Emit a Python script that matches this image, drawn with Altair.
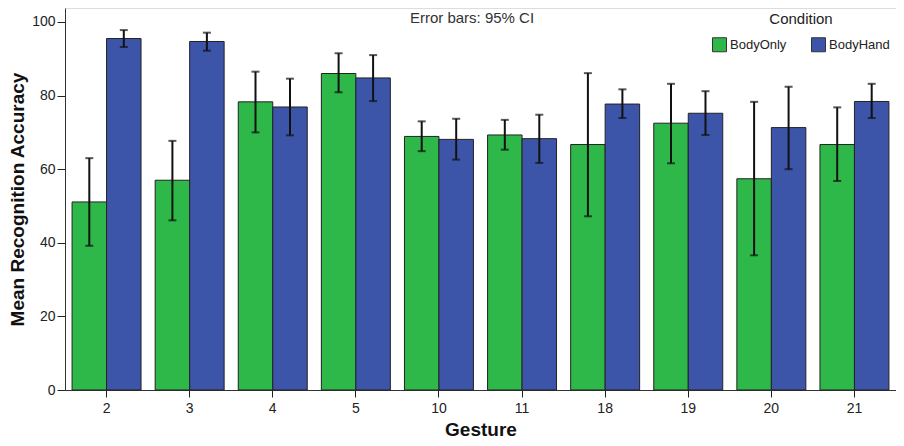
import altair as alt
import pandas as pd

gestures = ["2", "3", "4", "5", "10", "11", "18", "19", "20", "21"]
conditions = ["BodyOnly", "BodyHand"]
body_only_mean = [51.1, 57.0, 78.3, 86.0, 68.9, 69.3, 66.7, 72.5, 57.4, 66.7]
body_only_lo = [39.2, 46.1, 70.0, 80.9, 64.9, 65.3, 47.2, 61.6, 36.6, 56.8]
body_only_hi = [63.0, 67.7, 86.5, 91.5, 73.0, 73.4, 86.1, 83.2, 78.3, 76.8]
body_hand_mean = [95.5, 94.7, 76.9, 84.8, 68.1, 68.3, 77.7, 75.2, 71.3, 78.4]
body_hand_lo = [93.2, 92.2, 69.2, 78.5, 62.6, 61.7, 73.9, 69.3, 60.0, 73.9]
body_hand_hi = [97.8, 97.1, 84.6, 91.0, 73.7, 74.8, 81.7, 81.2, 82.4, 83.2]

rows = []
for i, g in enumerate(gestures):
    rows.append(dict(Gesture=g, Condition="BodyOnly", mean=body_only_mean[i],
                     lo=body_only_lo[i], hi=body_only_hi[i]))
    rows.append(dict(Gesture=g, Condition="BodyHand", mean=body_hand_mean[i],
                     lo=body_hand_lo[i], hi=body_hand_hi[i]))
df = pd.DataFrame(rows)

FONT = "Liberation Sans"
colors = ["#2fb84a", "#3d55a8"]

x = alt.X("Gesture:N", sort=gestures,
          scale=alt.Scale(paddingInner=0.17, paddingOuter=0.085),
          axis=alt.Axis(title="Gesture", labelAngle=0, tickSize=7, labelPadding=4,
                        labelFontSize=14, labelColor="#222", titleFontSize=19,
                        titleFontWeight="bold", titleColor="#111", titlePadding=5,
                        domainColor="#333", tickColor="#222", labelFont=FONT, titleFont=FONT))
xoff = alt.XOffset("Condition:N", sort=conditions)
yscale = alt.Scale(domain=[0, 103.8], nice=False)

base = alt.Chart(df)

bars = base.mark_bar(stroke="#222", strokeWidth=1).encode(
    x=x,
    xOffset=xoff,
    y=alt.Y("mean:Q", scale=yscale,
            axis=alt.Axis(title="Mean Recognition Accuracy", values=[0, 20, 40, 60, 80, 100],
                          grid=False, tickSize=8, labelPadding=2, labelFontSize=14,
                          labelColor="#222", titleFontSize=19, titleFontWeight="bold",
                          titleColor="#111", titlePadding=4, domainColor="#333",
                          tickColor="#222", labelFont=FONT, titleFont=FONT)),
    color=alt.Color("Condition:N", sort=conditions,
                    scale=alt.Scale(domain=conditions, range=colors),
                    legend=alt.Legend(title="Condition", orient="none", legendX=647, legendY=4,
                                      direction="horizontal", titleAnchor="middle",
                                      titleFontSize=15, titleFontWeight="normal",
                                      titleColor="#222", labelFontSize=13, labelColor="#222",
                                      symbolType="square", symbolSize=196,
                                      symbolStrokeColor="#333", symbolStrokeWidth=1,
                                      columnPadding=22, labelOffset=3, titlePadding=10,
                                      labelFont=FONT, titleFont=FONT)),
)

rules = base.mark_rule(color="#111", strokeWidth=2).encode(
    x=x, xOffset=xoff, y="lo:Q", y2="hi:Q")
caps_lo = base.mark_tick(color="#111", thickness=2, size=8, orient="horizontal").encode(
    x=x, xOffset=xoff, y="lo:Q")
caps_hi = base.mark_tick(color="#111", thickness=2, size=8, orient="horizontal").encode(
    x=x, xOffset=xoff, y="hi:Q")

note = alt.Chart(pd.DataFrame({"t": ["Error bars: 95% CI"]})).mark_text(
    font=FONT, fontSize=15, color="#333", baseline="middle", align="center").encode(
    text="t:N", x=alt.value(407), y=alt.value(10))

chart = alt.layer(bars, rules, caps_lo, caps_hi, note).properties(
    width=831, height=382,
    autosize=alt.AutoSizeParams(type="none"),
    padding={"left": 57, "top": 0, "right": 0, "bottom": 50},
).configure_view(
    fill="#f0f0f0", stroke="#333", strokeWidth=1
).configure(background="white")

chart.save("out.html", embed_options={"renderer": "svg", "actions": False})
